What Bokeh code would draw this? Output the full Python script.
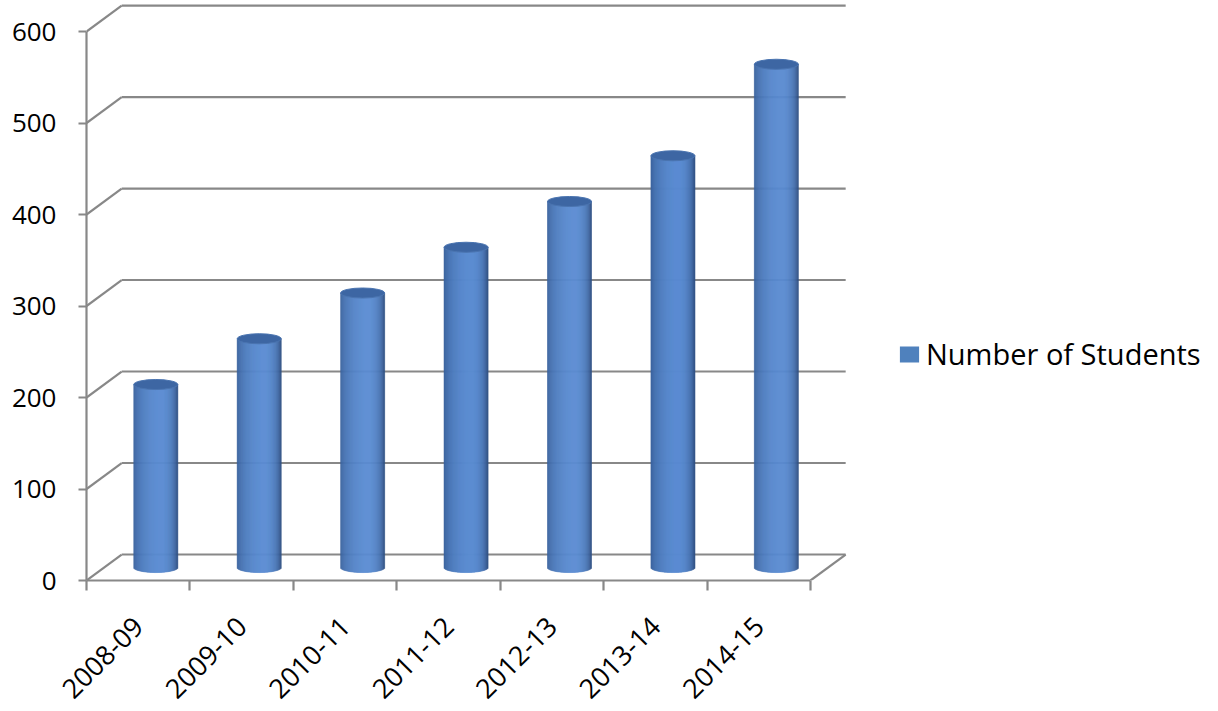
import numpy as np
from bokeh.plotting import figure
from bokeh.models import Range1d, LinearAxis, FixedTicker, Legend, LegendItem
from bokeh.embed import file_html
from bokeh.resources import INLINE

# ---- data ----
years = ["2008-09", "2009-10", "2010-11", "2011-12", "2012-13", "2013-14", "2014-15"]
students = [200, 250, 300, 350, 400, 450, 550]
y_ticks = [0, 100, 200, 300, 400, 500, 600]
series_name = "Number of Students"

# ---- 3D geometry / style ----
DX = 0.34       # depth offset, category units
DY = 28.4       # depth offset, value units
R = 0.2127      # cylinder radius, category units
E = 5.5         # ellipse half-height, value units
NSTRIP = 44
FONT = "Open Sans"
GRID = "#888888"

p = figure(frame_width=1116, frame_height=580,
           x_range=Range1d(0, 10.79), y_range=Range1d(0, 633.9),
           x_axis_type=None, y_axis_type=None,
           output_backend="svg", toolbar_location=None,
           min_border_left=86, min_border_right=0,
           min_border_top=0, min_border_bottom=115)
p.outline_line_color = None
p.background_fill_color = "white"

# back wall / floor lines
n = len(years)
x0, y0, x1, y1 = [], [], [], []
for v in y_ticks:
    x0.append(0); y0.append(v); x1.append(DX); y1.append(v + DY)
    x0.append(DX); y0.append(v + DY); x1.append(n + DX); y1.append(v + DY)
x0.append(n); y0.append(0); x1.append(n + DX); y1.append(DY)
p.segment(x0=x0, y0=y0, x1=x1, y1=y1, line_color=GRID, line_width=2.2)

# cylinders as shaded vertical strips
def shade(u):
    peak = 0.25
    w = 1.25 if u < peak else 0.75
    f = max(0.0, 1 - ((u - peak) / w) ** 2) ** 0.6
    t = (u + 1) / 2
    dark = np.array([52, 92, 150]) * (1 - t) + np.array([40, 70, 118]) * t
    light = np.array([90, 140, 210])
    c = dark + (light - dark) * f
    return "#%02x%02x%02x" % tuple(int(round(k)) for k in c)

edges = np.linspace(-1, 1, NSTRIP + 1)
mids = (edges[:-1] + edges[1:]) / 2
cx = [i + 0.5 + DX / 2 for i in range(n)]
L, Rt, B, T, C = [], [], [], [], []
for c, v in zip(cx, students):
    for a, b, m in zip(edges[:-1], edges[1:], mids):
        L.append(c + R * a); Rt.append(c + R * b)
        B.append(DY / 2 - E * np.sqrt(1 - m * m)); T.append(v + DY / 2)
        C.append(shade(m))
p.quad(left=L, right=Rt, bottom=B, top=T, fill_color=C, line_color=C, line_width=0.6)
p.ellipse(x=cx, y=[v + DY / 2 for v in students], width=2 * R, height=2 * E,
          fill_color="#3d66a3", line_color="#4a74b0", line_width=1)

# legend (swatch renderer carries no visible data)
nan = float("nan")
swatch = p.quad(left=[nan], right=[nan], bottom=[nan], top=[nan],
                fill_color="#4F81BD", line_color=None)
legend = Legend(items=[LegendItem(label=series_name, renderers=[swatch])],
                location=(811, 207), padding=0, margin=0, spacing=0,
                border_line_color=None, background_fill_alpha=0,
                glyph_width=24, glyph_height=20, label_standoff=5,
                label_text_font=FONT, label_text_font_size="29px",
                label_text_color="black")
p.add_layout(legend)

# axes
yaxis = LinearAxis(ticker=FixedTicker(ticks=y_ticks), bounds=(0, 600),
                   axis_line_color=GRID, axis_line_width=2.2,
                   major_tick_line_color=GRID, major_tick_line_width=2.2,
                   major_tick_out=8, major_tick_in=0, minor_tick_line_color=None,
                   major_label_text_font=FONT, major_label_text_font_size="26px",
                   major_label_text_color="black", major_label_standoff=22)
p.add_layout(yaxis, "left")

xaxis = LinearAxis(ticker=FixedTicker(ticks=[i + 0.5 for i in range(n)],
                                      minor_ticks=list(range(n + 1))),
                   bounds=(0, n),
                   major_label_overrides={i + 0.5: y for i, y in enumerate(years)},
                   major_label_orientation=np.pi / 4,
                   axis_line_color=GRID, axis_line_width=2.2,
                   major_tick_line_color=None, major_tick_out=10, major_tick_in=0,
                   minor_tick_line_color=GRID, minor_tick_line_width=2.2,
                   minor_tick_out=10, minor_tick_in=0,
                   major_label_text_font=FONT, major_label_text_font_size="27px",
                   major_label_text_color="black", major_label_standoff=31)
p.add_layout(xaxis, "below")

open("out.html", "w").write(file_html(p, INLINE))
